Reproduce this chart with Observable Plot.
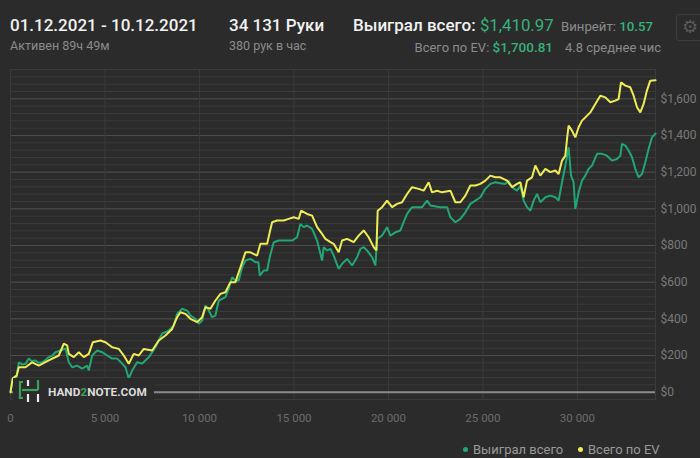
<!DOCTYPE html>
<html>
<head>
<meta charset="utf-8">
<script src="https://cdn.jsdelivr.net/npm/d3@7"></script>
<script src="https://cdn.jsdelivr.net/npm/@observablehq/plot@0.6"></script>
<style>
  html, body { margin: 0; padding: 0; background: #2b2b2b; }
  body { width: 700px; height: 458px; position: relative; overflow: hidden; font-family: Roboto, "Noto Sans", sans-serif; }
  .t { position: absolute; white-space: nowrap; line-height: 1; }
  #chart { position: absolute; left: 0; top: 0; }
</style>
</head>
<body>
<div id="chart"></div>

<div class="t" style="left:10px; top:17.4px; font-size:17px; font-weight:500; color:#f2f2f2;">01.12.2021 - 10.12.2021</div>
<div class="t" style="left:10px; top:40.2px; font-size:12.5px; color:#8c8c8c;">Активен 89ч 49м</div>

<div class="t" style="left:229px; top:17.4px; font-size:17px; font-weight:500; color:#f2f2f2;">34 131 Руки</div>
<div class="t" style="left:229px; top:40.2px; font-size:12.5px; color:#8c8c8c;">380 рук в час</div>

<div class="t" style="left:353px; top:17.4px; font-size:17px; font-weight:500; color:#f2f2f2;">Выиграл всего: <span style="color:#36b27a; font-weight:400; font-size:16.8px;">$1,410.97</span></div>
<div class="t" style="right:147px; top:41px; font-size:13px; color:#8c8c8c; text-align:right;">Всего по EV: <span style="color:#36b27a; font-weight:500; font-size:13.5px;">$1,700.81</span></div>

<div class="t" style="left:561px; top:19.5px; font-size:13.2px; color:#8c8c8c;">Винрейт: <span style="color:#36b27a; font-weight:500;">10.57</span></div>
<div class="t" style="left:565px; top:41px; font-size:13px; color:#8c8c8c;">4.8 среднее чис</div>

<div style="position:absolute; left:676px; top:14px; width:32px; height:27px; border:1px solid #3e3e3e; border-radius:3px; box-sizing:border-box;"></div>
<div class="t" style="left:682px; top:18px; font-size:18px; color:#5a5a5a; font-family:'DejaVu Sans';">⚙</div>

<!-- watermark -->
<div style="position:absolute; left:13px; top:378px; width:141px; height:28px; background:#2b2b2b;"></div>
<svg style="position:absolute; left:0; top:0;" width="160" height="420">
  <g fill="none" stroke-width="2.2">
    <path d="M23 382 L20 382 L20 398 L23 398" stroke="#3aa35a"/>
    <path d="M22 390 L38 390" stroke="#3aa35a"/>
    <path d="M38 380 L38 390" stroke="#3aa35a"/>
    <path d="M28 380 L28 386" stroke="#e8e8e8"/>
    <path d="M28 394 L28 402" stroke="#e8e8e8"/>
    <path d="M38 394 L38 402" stroke="#e8e8e8"/>
  </g>
  <text x="48" y="395.5" font-family="Roboto" font-weight="700" font-size="11.8" fill="#dcdcdc">HAND<tspan fill="#3aa35a">2</tspan>NOTE.COM</text>
</svg>

<!-- legend -->
<div style="position:absolute; left:463px; top:447px; width:5px; height:5px; border-radius:50%; background:#22a673;"></div>
<div class="t" style="left:473px; top:443px; font-size:13px; color:#9a9a9a;">Выиграл всего</div>
<div style="position:absolute; left:578px; top:447px; width:5px; height:5px; border-radius:50%; background:#f0ec55;"></div>
<div class="t" style="left:588px; top:443px; font-size:13px; color:#9a9a9a;">Всего по EV</div>

<script>
// --- data (hands played, cumulative $) ---
const winHands = [0,120,320,440,635,794,968,1111,1323,1481,1677,1852,2010,2222,2381,2645,2910,3084,3264,3528,3793,4057,4142,4322,4586,4851,5115,5380,5644,5909,6084,6258,6438,6702,6967,7316,7671,8025,8374,8639,8818,9083,9347,9522,9787,9961,10141,10316,10490,10670,10845,11019,11374,11548,11728,11903,12077,12257,12432,12696,12961,13119,13188,13400,13580,13717,13929,14193,14548,14902,15166,15341,15516,15695,15960,16224,16489,16574,16753,16928,17103,17367,17547,17811,18076,18340,18515,18690,18869,19134,19309,19398,19663,19927,20102,20367,20631,20806,20985,21250,21779,22043,22218,22747,23101,23276,23541,23805,24070,24334,24599,24863,25128,25392,25657,25921,26186,26360,26540,26804,26979,27154,27333,27508,27683,27862,28037,28302,28566,28831,29005,29185,29360,29534,29661,29799,29889,30063,30243,30418,30592,30772,31036,31301,31565,31830,32094,32269,32359,32534,32708,32888,33063,33237,33417,33592,33766,33946,34131];
const winValues = [0,75,80,163,150,155,183,170,173,160,163,175,190,200,218,227,238,163,136,145,129,145,118,200,227,218,200,183,183,156,136,75,118,163,156,190,245,320,336,363,427,455,445,418,400,373,391,473,445,409,418,500,518,564,627,609,609,681,718,727,709,709,636,663,663,736,818,827,827,827,845,918,900,909,891,827,718,791,773,782,745,673,700,727,691,736,782,791,773,736,691,836,854,900,854,872,882,927,972,1009,1009,1045,1018,1009,1009,954,927,945,981,1027,1045,1063,1109,1136,1145,1140,1136,1154,1118,1099,1127,1045,1009,990,1045,1081,1036,1063,1072,1063,1045,1145,1236,1336,1181,1145,1000,1090,1154,1181,1218,1236,1300,1300,1290,1263,1272,1290,1354,1345,1318,1281,1218,1172,1190,1254,1327,1390,1410.97];

const evHands = [0,120,320,440,794,1148,1497,2026,2555,2820,2999,3084,3349,3613,3878,4142,4354,4761,5026,5380,5729,5994,6258,6523,6787,7052,7496,7845,8200,8554,8818,8993,9258,9522,9876,10141,10316,10580,10845,11109,11374,11638,11903,12167,12432,12696,13050,13225,13580,13717,13844,14108,14458,14722,14987,15251,15378,15695,15960,16224,16489,16664,16928,17103,17367,17547,17811,18161,18425,18690,18954,19219,19361,19430,19663,19927,20192,20456,20721,20985,21250,21599,21864,22128,22307,22572,22837,23276,23541,23805,24070,24334,24599,24863,25128,25392,25657,25921,26275,26540,26804,26979,27154,27333,27598,27773,28037,28302,28566,28831,29005,29185,29360,29449,29534,29714,29889,30063,30243,30418,30682,30947,31211,31476,31740,32005,32179,32306,32534,32798,32973,33152,33327,33503,33677,33852,34131];
const evValues = [0,75,90,136,136,163,145,173,200,264,255,209,191,218,191,209,272,282,272,245,236,200,155,209,200,236,227,282,309,345,409,436,427,400,382,409,464,455,500,536,545,600,600,681,763,763,745,809,809,872,927,936,936,945,954,945,990,972,963,900,863,836,818,809,763,827,836,818,854,882,845,791,773,990,1009,1045,1009,1027,1036,1081,1118,1109,1099,1145,1090,1099,1090,1099,1036,1036,1072,1127,1127,1136,1154,1181,1172,1172,1154,1118,1136,1145,1063,1154,1172,1236,1181,1218,1200,1209,1190,1263,1290,1381,1454,1426,1390,1445,1481,1499,1526,1572,1617,1608,1581,1590,1599,1690,1672,1663,1617,1554,1526,1572,1645,1699,1700.81];

const seriesNames = ["Выиграл всего", "Всего по EV"];
const seriesColors = ["#22a673", "#f0ec55"];
const xTicks = [0, 5000, 10000, 15000, 20000, 25000, 30000];
const yTicks = [0, 200, 400, 600, 800, 1000, 1200, 1400, 1600];
const yMinor = d3.range(-40, 1761, 40);

const win = winHands.map((h, i) => ({hands: h, value: winValues[i], series: seriesNames[0]}));
const ev = evHands.map((h, i) => ({hands: h, value: evValues[i], series: seriesNames[1]}));

const spaceFmt = d3.formatLocale({decimal: ".", thousands: " ", grouping: [3], currency: ["$", ""]}).format(",");
const usdFmt = d => "$" + d3.format(",")(d);

const chart = Plot.plot({
  width: 700,
  height: 458,
  marginTop: 69,
  marginBottom: 59,
  marginLeft: 10,
  marginRight: 45,
  style: {background: "transparent", color: "#727272", fontFamily: "Roboto, sans-serif", fontSize: "12px"},
  x: {domain: [0, 34131]},
  y: {domain: [-40, 1760]},
  marks: [
    Plot.ruleY(yMinor, {stroke: "#3a3a3a", strokeWidth: 1}),
    Plot.ruleY(yTicks, {stroke: "#4d4d4d", strokeWidth: 1}),
    Plot.ruleX(xTicks, {stroke: "#3b3b3b", strokeWidth: 1}),
    Plot.frame({stroke: "#3b3b3b"}),
    Plot.ruleY([0], {stroke: "#8a8a8a", strokeWidth: 2}),
    Plot.line(win, {x: "hands", y: "value", stroke: seriesColors[0], strokeWidth: 2, strokeLinejoin: "miter"}),
    Plot.line(ev, {x: "hands", y: "value", stroke: seriesColors[1], strokeWidth: 2, strokeLinejoin: "miter"}),
    Plot.axisX({ticks: xTicks, tickSize: 0, tickPadding: 14, tickFormat: spaceFmt, fill: "#6c6c6c", label: null, fontSize: 11.5, letterSpacing: "-0.4px"}),
    Plot.axisY({anchor: "right", ticks: yTicks, tickSize: 0, tickPadding: 5, tickFormat: usdFmt, fill: "#7a7a7a", label: null, fontSize: 12, letterSpacing: "-0.4px"})
  ]
});
document.getElementById("chart").appendChild(chart);
</script>
</body>
</html>
